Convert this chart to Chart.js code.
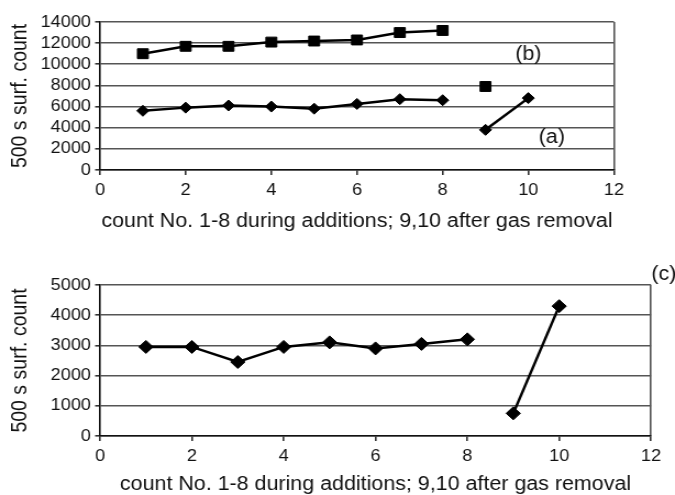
<!DOCTYPE html>
<html>
<head>
<meta charset="utf-8">
<title>surface counts</title>
<script src="https://cdn.jsdelivr.net/npm/chart.js@4.4.0/dist/chart.umd.min.js"></script>
<style>
  body { margin: 0; background: #fff; overflow: hidden; }
  /* the figure is drawn slightly narrow and widened as a whole */
  canvas { position: absolute; left: 0; transform: scaleX(1.0993); transform-origin: 0 0; }
  #topChart { top: 0; }
  #bottomChart { top: 245px; }
</style>
</head>
<body>
<canvas id="topChart" width="614" height="245"></canvas>
<canvas id="bottomChart" width="614" height="250"></canvas>
<script>
// counts 1-8 were taken during the additions, 9 and 10 after the gas was removed
const addCounts = [1, 2, 3, 4, 5, 6, 7, 8];
const removalCounts = [9, 10];

// upper panel: (b) squares, (a) diamonds
const countsB = [11000, 11700, 11700, 12100, 12200, 12300, 13000, 13200];
const countsBRemoval = [7900];
const countsA = [5600, 5900, 6100, 6000, 5800, 6250, 6700, 6600];
const countsARemoval = [3800, 6800];

// lower panel: (c)
const countsC = [2950, 2950, 2450, 2950, 3100, 2900, 3050, 3200];
const countsCRemoval = [750, 4300];

const xTitle = 'count No. 1-8 during additions; 9,10 after gas removal';
const yTitle = '500 s surf. count';

const FONT = "'Liberation Sans', Arial, sans-serif";
const tickFont = { family: FONT, size: 16.5 };
const titleFont = { family: FONT, size: 19.5 };

function toPoints(xs, ys) {
  return ys.map((y, i) => ({ x: xs[i], y: y }));
}

function series(xs, ys, style, radius) {
  return {
    data: toPoints(xs, ys),
    borderColor: '#000',
    backgroundColor: '#000',
    borderWidth: 2.5,
    pointStyle: style,
    pointRadius: radius,
    pointHoverRadius: radius,
    pointBorderWidth: 1,
    showLine: true,
    tension: 0
  };
}

// writes the (a) (b) (c) tags at data coordinates
const panelLabels = {
  id: 'panelLabels',
  afterDatasetsDraw(chart, args, opts) {
    const { ctx, scales: { x, y } } = chart;
    ctx.save();
    ctx.font = titleFont.size + 'px ' + FONT;
    ctx.fillStyle = '#111';
    ctx.textAlign = 'center';
    ctx.textBaseline = 'middle';
    (opts.items || []).forEach(it => {
      ctx.fillText(it.text, x.getPixelForValue(it.x), y.getPixelForValue(it.y));
    });
    ctx.restore();
  }
};

function makeChart(id, datasets, yMax, yStep, pad, xHeight, titlePad, labels) {
  return new Chart(document.getElementById(id), {
    type: 'scatter',
    data: { datasets },
    plugins: [panelLabels],
    options: {
      responsive: false,
      animation: false,
      layout: { padding: pad },
      plugins: {
        legend: { display: false },
        tooltip: { enabled: false },
        panelLabels: { items: labels }
      },
      scales: {
        x: {
          type: 'linear',
          min: 0,
          max: 12,
          ticks: { stepSize: 2, padding: 6, maxRotation: 0, autoSkip: false, color: '#111', font: tickFont },
          grid: {
            color: c => (c.tick && c.tick.value === 12) ? '#555' : 'rgba(0,0,0,0)',
            lineWidth: 1.6,
            tickColor: '#333',
            tickLength: 5
          },
          border: { color: '#111', width: 1.6 },
          title: { display: true, text: xTitle, color: '#111', font: titleFont, padding: { top: 0, bottom: titlePad } },
          afterFit: s => { s.height = xHeight; }
        },
        y: {
          min: 0,
          max: yMax,
          ticks: { stepSize: yStep, padding: 3.7, autoSkip: false, color: '#111', font: tickFont, callback: v => String(v) },
          grid: { color: '#555', lineWidth: 1.6, tickColor: '#333', tickLength: 4.5 },
          border: { color: '#111', width: 1.6 },
          title: { display: true, text: yTitle, color: '#111', font: titleFont, padding: { top: 7, bottom: 0 } },
          afterFit: s => { s.width = 91; }
        }
      }
    }
  });
}

const topChart = makeChart('topChart', [
  series(addCounts, countsB, 'rect', 7),
  series(removalCounts, countsBRemoval, 'rect', 7),
  series(addCounts, countsA, 'rectRot', 5.5),
  series(removalCounts, countsARemoval, 'rectRot', 5.5)
], 14000, 2000, { top: 22, right: 55.5, left: 0, bottom: 0 }, 75, 11.6, [
  { text: '(b)', x: 10, y: 10900 },
  { text: '(a)', x: 10.55, y: 3100 }
]);

const bottomChart = makeChart('bottomChart', [
  series(addCounts, countsC, 'rectRot', 6.5),
  series(removalCounts, countsCRemoval, 'rectRot', 6.5)
], 5000, 1000, { top: 40, right: 21.8, left: 0, bottom: 0 }, 59, -1, [
  { text: '(c)', x: 12.28, y: 5330 }
]);
</script>
</body>
</html>
